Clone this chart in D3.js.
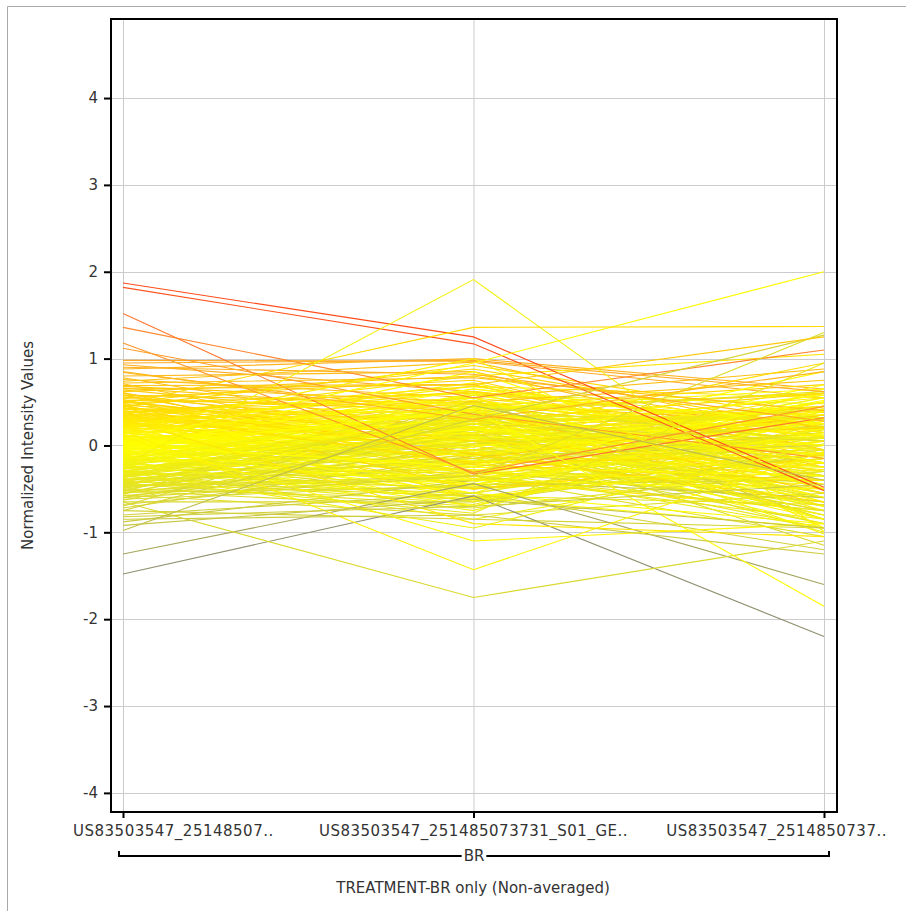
<!DOCTYPE html>
<html>
<head>
<meta charset="utf-8">
<script src="https://cdn.jsdelivr.net/npm/d3@7"></script>
<style>
  body { margin: 0; background: #fff; }
  text { font-family: "DejaVu Sans", sans-serif; fill: #333; }
</style>
</head>
<body>
<svg id="chart"></svg>
<script>
// sample (column) labels, truncated like in the original
const samples = ["US83503547_25148507..", "US83503547_251485073731_S01_GE..", "US83503547_2514850737.."];
const groupName = "BR";
const xTitle = "TREATMENT-BR only (Non-averaged)";
const yTitle = "Normalized Intensity Values";
const yTicks = [-4, -3, -2, -1, 0, 1, 2, 3, 4];

// one entry per gene, value at each of the three samples
const valuesA = [
  0.98, 0.93, 0.88, 0.84, 0.80, 0.78, 0.76, 0.74, 0.71, 0.69, 0.66, 0.64, 0.62, 0.61, 0.60, 0.58,
  0.56, 0.55, 0.53, 0.52, 0.50, 0.49, 0.48, 0.46, 0.45, 0.44, 0.42, 0.41, 0.40, 0.39, 0.38, 0.37, 0.36, 0.35, 0.34, 0.34, 0.33, 0.32, 0.32, 0.31, 0.31, 0.30, 0.30, 0.29, 0.28, 0.28,
  0.27, 0.26, 0.25, 0.24, 0.23, 0.22, 0.21, 0.20, 0.19, 0.18, 0.17, 0.16, 0.15, 0.14, 0.13, 0.12, 0.11, 0.10, 0.09, 0.08, 0.08, 0.07, 0.06, 0.05, 0.05, 0.04, 0.03, 0.03, 0.02, 0.02, 0.01, 0.01, 0.00, 0.00, -0.01, -0.01, -0.02, -0.02, -0.03, -0.03,
  -0.04, -0.05, -0.06, -0.07, -0.08, -0.09, -0.10, -0.10, -0.11, -0.12, -0.13, -0.14, -0.15, -0.15, -0.16, -0.17, -0.18, -0.19, -0.20, -0.20, -0.21, -0.22, -0.23, -0.24, -0.25, -0.25, -0.26, -0.27, -0.28, -0.29, -0.30, -0.30, -0.31, -0.32, -0.33, -0.34, -0.35, -0.36, -0.37, -0.38,
  -0.39, -0.40, -0.41, -0.42, -0.43, -0.44, -0.45, -0.46, -0.47, -0.48, -0.49, -0.50, -0.51, -0.52, -0.53, -0.54, -0.55, -0.56, -0.57, -0.58, -0.60, -0.62, -0.63, -0.65, -0.68, -0.70, -0.72, -0.75, -0.80, -0.88,
  0.58, 0.54, 0.51, 0.47, 0.43, 0.40, 0.37, 0.33, 0.29, 0.27, 0.25, 0.23, 0.21, 0.19, 0.17, 0.15, 0.13, 0.11, 0.09, 0.07,
  0.05, 0.03, 0.01, -0.01, -0.03, -0.05, -0.07, -0.09, -0.11, -0.13, -0.15, -0.17, -0.19, -0.21, -0.23, -0.25, -0.27, -0.29, -0.31, -0.33,
  -0.35, -0.37, -0.39, -0.41, -0.43, -0.45, -0.47, -0.49, -0.52, -0.55, 0.72, 0.68, 0.45, 0.22, 0.12, 0.06, -0.04, -0.12, -0.18, -0.26,
  0.36, 0.16, -0.08, -0.34, -0.44, 0.50, 0.26, 0.00, -0.16, -0.22,
  1.87, 1.82, 1.52, 1.36, 1.18, 1.12, 0.95, 0.90, -0.23, 0.05, 0.48, -1.48, -1.25, -0.65, 0.17, 0.10, -0.02, -0.85, -0.75, -0.60, 0.30, -0.40, 0.65, 0.20, -0.30, 0.85, -0.92, -0.82, -0.98
];
const valuesB = [
  0.97, 0.62, 1.00, 0.35, 0.85, 0.12, 0.55, 0.96, -0.10, 0.70, 0.40, 0.25, 0.80, -0.30, 0.05, 0.48,
  0.20, 0.75, -0.35, 0.45, 0.10, 0.60, -0.05, 0.30, 0.92, -0.60, 0.15, 0.50, 0.00, 0.38, -0.20, 0.68, 0.22, -0.45, 0.05, 0.55, 0.33, -0.12, 0.80, 0.18, -0.30, 0.42, 0.08, 0.25, -0.50, 0.62,
  0.35, -0.25, 0.10, 0.55, -0.40, 0.20, 0.00, 0.72, -0.15, 0.40, -0.55, 0.15, 0.28, -0.08, 0.50, -0.30, 0.05, 0.65, -0.70, 0.25, -0.18, 0.12, 0.45, -0.45, 0.30, -0.02, 0.58, -0.35, 0.18, -0.60, 0.08, 0.38, -0.22, 0.85, -0.10, 0.22, -0.50, 0.02, 0.48, -0.28,
  0.15, -0.45, 0.30, -0.20, 0.05, -0.65, 0.42, -0.10, 0.20, -0.38, 0.60, -0.55, 0.00, 0.35, -0.28, 0.12, -0.75, 0.48, -0.05, 0.25, -0.42, 0.08, -0.60, 0.38, -0.15, 0.55, -0.32, 0.18, -0.85, 0.02, -0.22, 0.45, -0.50, 0.10, -0.35, 0.28, -0.68, -0.08, 0.33, -0.18,
  -0.30, 0.10, -0.55, 0.25, -0.15, -0.70, 0.05, -0.40, 0.38, -0.25, -0.05, -0.62, 0.18, -0.35, 0.45, -0.48, -0.10, 0.30, -0.80, -0.20, 0.00, -0.45, 0.15, -0.65, -0.30, 0.52, -0.12, -0.85, -0.55, -0.40,
  -0.15, 0.40, 0.05, -0.50, 0.28, -0.22, 0.62, 0.12, -0.38, 0.48, -0.08, 0.20, -0.60, 0.35, 0.00, -0.30, 0.55, -0.12, 0.25, -0.45,
  0.10, 0.42, -0.25, 0.65, -0.55, 0.18, -0.02, 0.32, -0.70, 0.08, 0.45, -0.18, 0.22, -0.40, 0.58, -0.05, 0.15, -0.62, 0.30, -0.28,
  0.05, 0.50, -0.48, 0.12, -0.15, 0.38, -0.35, 0.02, -0.72, 0.25, 0.78, 0.50, -0.10, 0.68, -0.32, 0.14, 0.40, -0.46, 0.26, -0.06,
  -0.20, 0.52, -0.40, 0.34, -0.58, 0.88, 0.06, -0.24, 0.44, -0.64,
  1.25, 1.17, -0.33, 0.55, -0.31, 0.36, 0.98, 0.82, 1.91, 0.95, 1.36, -0.58, -0.44, -1.75, -1.43, -1.10, 0.41, -0.80, 0.30, -0.35, -0.90, -0.78, 0.70, 1.00, -0.95, 0.30, -0.62, -0.70, 0.46
];
const valuesC = [
  0.55, 0.20, 0.65, 0.30, -0.05, 0.42, 0.88, 0.10, 0.35, -0.25, 0.60, 0.45, 0.15, 0.05, -0.40, 0.25,
  0.40, -0.15, 0.10, 0.70, -0.35, 0.25, 0.50, -0.60, 0.30, -0.20, 0.95, 0.05, 0.35, -0.45, 0.15, 0.55, -0.10, 0.20, 0.45, -0.70, 0.00, 0.30, 1.05, -0.25, 0.10, 0.60, -0.50, 0.38, -0.05, 0.22,
  -0.20, 0.30, -0.55, 0.10, 0.45, -0.35, 0.20, -0.10, 0.60, -0.75, 0.05, 0.35, -0.45, 0.25, -0.15, 0.50, -0.85, 0.15, 0.40, -0.30, 0.70, -0.05, -0.60, 0.28, -0.25, 0.85, 0.00, -0.40, 0.18, -0.95, 0.32, -0.12, 0.55, -0.50, 0.08, -0.70, 0.42, -0.20, 0.12, -0.65,
  0.25, -0.40, -0.05, 0.50, -0.75, 0.15, -0.30, 0.35, -0.55, 0.05, -0.20, 0.65, -0.90, 0.20, -0.45, -0.10, 0.40, -0.65, 0.10, -0.35, 0.30, -0.80, 0.00, -0.25, 0.55, -0.50, 0.15, -1.00, -0.15, 0.35, -0.60, 0.05, -0.30, 0.45, -0.85, -0.05, 0.25, -0.70, -0.40, 0.10,
  -0.50, -0.80, 0.10, -0.30, -0.95, 0.20, -0.60, -0.15, -0.85, 0.35, -0.45, -0.05, -0.70, -1.05, 0.05, -0.35, -0.90, -0.20, -0.55, 0.15, -0.75, -0.40, -1.15, -0.10, -0.65, -0.85, 0.00, -0.95, -1.20, -0.60,
  0.35, -0.55, 0.20, -0.15, 0.60, -0.40, -0.05, 0.45, -0.75, 0.10, -0.30, 0.55, -0.20, -0.85, 0.30, 0.05, -0.50, 0.40, -0.65, 0.15,
  -0.10, 0.65, -0.35, 0.25, -0.90, 0.00, 0.50, -0.45, 0.20, -0.70, 0.35, -0.25, -0.60, 0.12, 0.48, -0.80, 0.08, -0.15, 0.30, -0.95,
  0.42, -0.35, 0.18, -0.55, -0.05, 0.62, -0.75, 0.22, -0.30, 0.05, 0.40, 0.75, -0.65, 0.15, -0.40, 0.58, -0.20, 0.28, -0.85, 0.45,
  -0.12, 0.10, -0.50, 0.32, -0.68, 0.20, -0.28, 0.52, -1.02, -0.08,
  -0.48, -0.52, 0.32, 1.10, 0.45, -0.15, 0.62, 0.28, -0.99, 2.00, 1.37, -2.20, -1.60, -1.10, -0.07, -0.90, -1.85, -1.25, 1.27, 1.30, -1.05, 0.95, 1.25, -0.95, 0.02, 0.85, -0.95, -0.45, -0.40
];

const width = 906, height = 911;
const plot = { left: 111, right: 837, top: 19, bottom: 812 };

const svg = d3.select("#chart").attr("width", width).attr("height", height);

// panel border (only top / left edge visible)
svg.append("path")
    .attr("d", `M7.5,${height} V6.5 H${width}`)
    .attr("fill", "none")
    .attr("stroke", "#a8a8a8");

const x = d3.scalePoint().domain(samples).range([123, 824]);
const y = d3.scaleLinear().domain([-4.22, 4.91]).range([plot.bottom, plot.top]);

// line colour follows the first sample's value
const color = d3.scaleLinear()
    .domain([-1.5, -1.2, -0.8, -0.3, 0, 0.5, 1.0, 1.5, 1.9])
    .range(["#8e8e72", "#acab5a", "#d2d03a", "#efed12", "#ffff00", "#ffd700", "#ffa828", "#ff7a30", "#ff4818"]);

// grid
svg.append("g").selectAll("line.h")
    .data(yTicks)
    .join("line")
    .attr("x1", plot.left).attr("x2", plot.right)
    .attr("y1", d => Math.round(y(d)) + 0.5).attr("y2", d => Math.round(y(d)) + 0.5)
    .attr("stroke", "#cccccc");
svg.append("g").selectAll("line.v")
    .data(samples)
    .join("line")
    .attr("x1", d => x(d) + 0.5).attr("x2", d => x(d) + 0.5)
    .attr("y1", plot.top).attr("y2", plot.bottom)
    .attr("stroke", "#cccccc");

svg.append("clipPath").attr("id", "clip")
    .append("rect")
    .attr("x", plot.left).attr("y", plot.top)
    .attr("width", plot.right - plot.left).attr("height", plot.bottom - plot.top);

const genes = valuesA.map((v, i) => [valuesA[i], valuesB[i], valuesC[i]]);
const line = d3.line().x((d, i) => x(samples[i])).y(d => y(d));

svg.append("g")
    .attr("clip-path", "url(#clip)")
    .selectAll("path")
    .data(genes)
    .join("path")
    .attr("d", line)
    .attr("fill", "none")
    .attr("stroke", d => color(d[0]))
    .attr("stroke-width", 1.1);

// frame
svg.append("rect")
    .attr("x", plot.left).attr("y", plot.top)
    .attr("width", plot.right - plot.left).attr("height", plot.bottom - plot.top)
    .attr("fill", "none")
    .attr("stroke", "#000")
    .attr("stroke-width", 2);

// y axis
const yAxis = svg.append("g").attr("transform", `translate(${plot.left - 1},0)`)
    .call(d3.axisLeft(y).tickValues(yTicks).tickSize(6).tickPadding(6).tickFormat(d3.format("d")));
yAxis.select(".domain").remove();
yAxis.selectAll(".tick line").attr("stroke", "#000").attr("stroke-width", 2);
yAxis.selectAll(".tick text")
    .style("font-family", "DejaVu Sans").style("font-size", "15px").attr("fill", "#333")
    .text(d => String(d).replace("\u2212", "-"));

// x axis
const xAxis = svg.append("g").attr("transform", `translate(0,${plot.bottom})`)
    .call(d3.axisBottom(x).tickSize(6).tickFormat(""));
xAxis.select(".domain").remove();
xAxis.selectAll(".tick line").attr("stroke", "#000").attr("stroke-width", 2);

// tick labels are kept inside the panel, so the first and last are shifted inwards
svg.append("g").selectAll("text")
    .data(samples)
    .join("text")
    .attr("x", (d, i) => i === 0 ? x(d) - 50 : i === samples.length - 1 ? x(d) + 63 : x(d))
    .attr("y", 836)
    .attr("text-anchor", (d, i) => i === 0 ? "start" : i === samples.length - 1 ? "end" : "middle")
    .style("font-size", "15px")
    .style("letter-spacing", "0.5px")
    .text(d => d);

// group bracket
const bx0 = x(samples[0]) - 4, bx1 = x(samples[samples.length - 1]) + 5, by = 856;
const br = svg.append("text")
    .attr("x", (bx0 + bx1) / 2).attr("y", by + 5)
    .attr("text-anchor", "middle")
    .style("font-size", "15px")
    .text(groupName);
const bw = br.node().getComputedTextLength() / 2 + 2;
const mid = (bx0 + bx1) / 2;
svg.append("path")
    .attr("d", `M${bx0},${by - 5} V${by} H${mid - bw} M${mid + bw},${by} H${bx1} V${by - 5}`)
    .attr("fill", "none")
    .attr("stroke", "#000")
    .attr("stroke-width", 2);

// titles
svg.append("text")
    .attr("x", (plot.left + plot.right) / 2 - 1).attr("y", 893)
    .attr("text-anchor", "middle")
    .style("font-size", "15px")
    .text(xTitle);

svg.append("text")
    .attr("transform", `translate(33,${y(0)}) rotate(-90)`)
    .attr("text-anchor", "middle")
    .style("font-size", "15px")
    .text(yTitle);
</script>
</body>
</html>
